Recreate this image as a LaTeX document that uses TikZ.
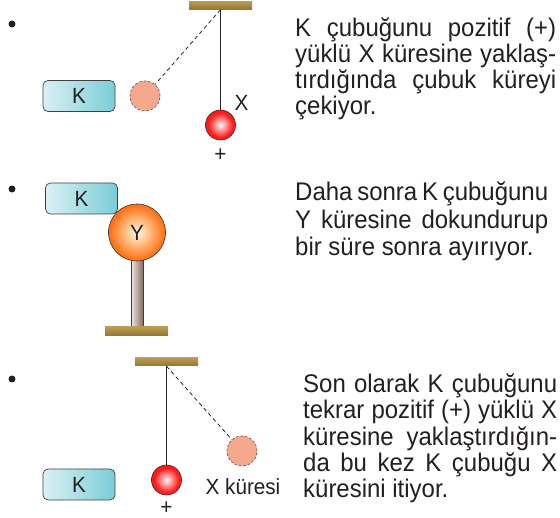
\documentclass[tikz,border=0pt]{standalone}
\usepackage{fontspec}
\setmainfont{Liberation Sans}
\newfontfamily\bodyfont{Liberation Sans}[FakeStretch=0.94]

\definecolor{ink}{RGB}{35,31,32}
\definecolor{boxL}{RGB}{218,240,244}
\definecolor{boxR}{RGB}{122,205,214}
\definecolor{barTop}{RGB}{186,155,82}
\definecolor{barBot}{RGB}{146,118,50}
\definecolor{ghost}{RGB}{246,168,140}
\definecolor{poleL}{RGB}{242,232,226}
\definecolor{poleR}{RGB}{130,108,96}

% shaded spheres
\pgfdeclareradialshading{redsphere}{\pgfpoint{0bp}{0bp}}{%
  color(0bp)=(white); color(5bp)=(red!25!white); color(20bp)=(red!88!white);
  color(38bp)=(red!92!black); color(50bp)=(red!72!black)}
\pgfdeclareradialshading{orangesphere}{\pgfpoint{0bp}{0bp}}{%
  color(0bp)=(white!92!orange); color(8bp)=(orange!40!white);
  color(24bp)=(orange!78!red!92!white); color(42bp)=(orange!82!red); color(50bp)=(orange!72!red!90!black)}

\tikzset{
  kbox/.style={rectangle, rounded corners=5pt, minimum width=72pt, minimum height=31pt,
    left color=boxL, right color=boxR, draw=black!75, line width=0.7pt,
    font=\bodyfont\fontsize{22}{22}\selectfont, text=ink, inner sep=0pt},
  bar/.style={rectangle, minimum width=63pt, minimum height=8pt, inner sep=0pt,
    top color=barTop, bottom color=barBot},
  xball/.style={circle, minimum size=30pt, inner sep=0pt, shading=redsphere,
    draw=black!80, line width=0.6pt},
  ghostball/.style={circle, minimum size=30pt, inner sep=0pt, fill=ghost,
    draw=black!70, line width=0.6pt, dash pattern=on 2.5pt off 2pt},
  string/.style={draw=black!85, line width=0.8pt},
  swing/.style={draw=black!85, line width=0.8pt, dash pattern=on 4pt off 3pt},
  lbl/.style={font=\bodyfont\fontsize{22}{22}\selectfont, text=ink, inner sep=0pt},
  bullet/.style={circle, fill=ink, minimum size=7pt, inner sep=0pt},
  line/.style={anchor=base west, inner sep=0pt, text=ink, font=\bodyfont\fontsize{25.5}{26}\selectfont},
}

\begin{document}
\begin{tikzpicture}[x=1pt, y=-1pt]
\useasboundingbox (0,0) rectangle (560,518);

% ---------- first step: rod attracts X ----------
\node[bullet] (b1) at (12,24) {};
\node[kbox] (k1) at (79,96) {K};
\node[bar] (c1) at (220.5,5.5) {};
\node[ghostball] (g1) at (145,96) {};
\node[xball] (x1) at (220.5,125) {};
\path[string] (c1.south) -- (x1);
\path[swing] (c1.south) -- (g1);
\node[lbl] (xl1) at (241.5,102.5) {X};
\node[lbl] (p1) at (220.5,155) {+};

\node[line] (t1a) at (295,37) {\makebox[261pt][s]{K çubuğunu pozitif (+)}};
\node[line] (t1b) at (295,63) {\makebox[261pt][s]{yüklü X küresine yaklaş-}};
\node[line] (t1c) at (295,89) {\makebox[261pt][s]{tırdığında çubuk küreyi}};
\node[line] (t1d) at (295,115) {çekiyor.};

% ---------- second step: rod touches Y ----------
\node[bullet] (b2) at (12,189) {};
\node[rectangle, minimum width=12pt, minimum height=67pt, inner sep=0pt,
      left color=poleL, right color=poleR, draw=black!75, line width=0.6pt]
      (pole) at (137,294) {};
\node[bar, minimum height=9pt] (base) at (136.5,331.5) {};
\node[kbox] (k2) at (81.5,198.5) {K};
\node[circle, minimum size=57pt, inner sep=0pt, shading=orangesphere,
      draw=black!80, line width=0.6pt, font=\bodyfont\fontsize{22}{22}\selectfont, text=ink]
      (y) at (137,232.5) {Y};

\node[line] (t2a) at (295,201) {\makebox[253pt][s]{Daha sonra K çubuğunu}};
\node[line] (t2b) at (295,228.5) {\makebox[253pt][s]{Y küresine dokundurup}};
\node[line] (t2c) at (295,256) {bir süre sonra ayırıyor.};

% ---------- third step: rod repels X ----------
\node[bullet] (b3) at (12,379) {};
\node[bar] (c3) at (166.5,362) {};
\node[ghostball] (g3) at (242,451) {};
\node[xball] (x3) at (166.5,480) {};
\path[string] (c3.south) -- (x3);
\path[swing] (c3.south) -- (g3);
\node[kbox] (k3) at (79,484.5) {K};
\node[lbl] (p3) at (166.5,508) {+};
\node[lbl, anchor=base] (xl3) at (243,495) {X küresi};

\node[line] (t3a) at (303,393) {\makebox[254pt][s]{Son olarak K çubuğunu}};
\node[line] (t3b) at (303,419) {\makebox[254pt][s]{tekrar pozitif (+) yüklü X}};
\node[line] (t3c) at (303,446) {\makebox[254pt][s]{küresine yaklaştırdığın-}};
\node[line] (t3d) at (303,472) {\makebox[254pt][s]{da bu kez K çubuğu X}};
\node[line] (t3e) at (303,498) {küresini itiyor.};
\end{tikzpicture}
\end{document}
